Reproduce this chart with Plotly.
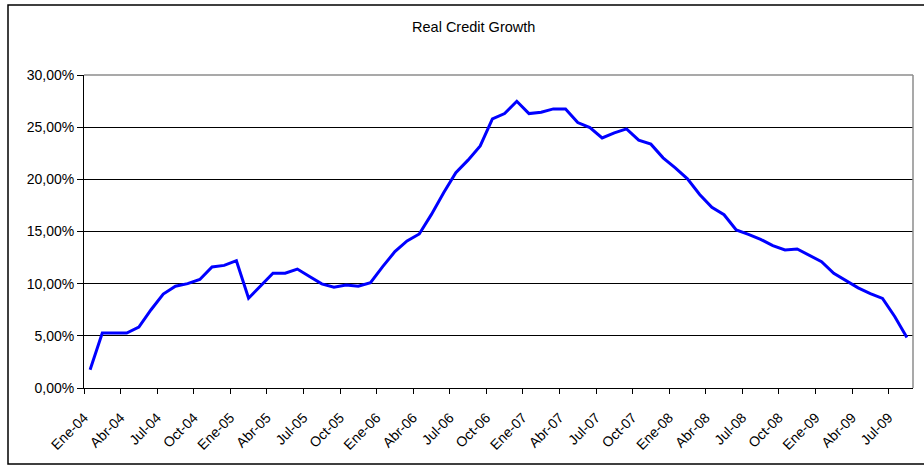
import plotly.graph_objects as go

title_text = "Real Credit Growth"

months = [
    "Ene-04", "Feb-04", "Mar-04", "Abr-04", "May-04", "Jun-04", "Jul-04", "Ago-04", "Sep-04", "Oct-04", "Nov-04", "Dic-04",
    "Ene-05", "Feb-05", "Mar-05", "Abr-05", "May-05", "Jun-05", "Jul-05", "Ago-05", "Sep-05", "Oct-05", "Nov-05", "Dic-05",
    "Ene-06", "Feb-06", "Mar-06", "Abr-06", "May-06", "Jun-06", "Jul-06", "Ago-06", "Sep-06", "Oct-06", "Nov-06", "Dic-06",
    "Ene-07", "Feb-07", "Mar-07", "Abr-07", "May-07", "Jun-07", "Jul-07", "Ago-07", "Sep-07", "Oct-07", "Nov-07", "Dic-07",
    "Ene-08", "Feb-08", "Mar-08", "Abr-08", "May-08", "Jun-08", "Jul-08", "Ago-08", "Sep-08", "Oct-08", "Nov-08", "Dic-08",
    "Ene-09", "Feb-09", "Mar-09", "Abr-09", "May-09", "Jun-09", "Jul-09", "Ago-09",
]

growth_pct = [
    1.75, 5.26, 5.26, 5.26, 5.83, 7.50, 9.00, 9.75, 10.00, 10.40, 11.60, 11.75,
    12.20, 8.60, 9.80, 11.00, 11.00, 11.40, 10.68, 9.98, 9.66, 9.88, 9.75, 10.10,
    11.63, 13.07, 14.09, 14.76, 16.64, 18.71, 20.63, 21.84, 23.20, 25.79, 26.30, 27.48,
    26.30, 26.43, 26.75, 26.75, 25.44, 24.96, 23.97, 24.45, 24.83, 23.75, 23.37, 22.06,
    21.10, 20.05, 18.55, 17.31, 16.61, 15.14, 14.73, 14.25, 13.64, 13.23, 13.32, 12.75,
    12.11, 11.00, 10.30, 9.60, 9.05, 8.58, 6.85, 4.85,
]

y_ticks = [0, 5, 10, 15, 20, 25, 30]
label_step = 3

x_idx = list(range(len(months)))
tick_pos = [i - 0.5 for i in range(0, len(months), label_step)]
tick_txt = [months[i] for i in range(0, len(months), label_step)]

fig = go.Figure()
fig.add_trace(go.Scatter(
    x=x_idx, y=[v / 100 for v in growth_pct], mode="lines",
    line=dict(color="#0000FF", width=3), showlegend=False, hoverinfo="skip",
))

font_family = "Liberation Sans, Arial, sans-serif"

fig.update_layout(
    width=924, height=466,
    margin=dict(l=84, r=11, t=75, b=78),
    paper_bgcolor="white", plot_bgcolor="white",
    separators=",.",
    font=dict(family=font_family, size=14, color="black"),
    title=dict(text=title_text, x=473.7 / 924, xref="container", xanchor="center",
               y=1 - 27 / 466, yref="container", yanchor="middle",
               font=dict(size=14.5, family=font_family, color="black")),
    xaxis=dict(
        range=[-0.5, len(months) - 0.5], tickmode="array", tickvals=tick_pos, ticktext=tick_txt,
        tickangle=-45, ticks="outside", ticklen=5, tickcolor="black", showgrid=False,
        showline=True, linecolor="black", linewidth=1, zeroline=False,
        tickfont=dict(size=14), ticklabelstandoff=10,
    ),
    yaxis=dict(
        range=[0, 0.30], tickmode="array", tickvals=[v / 100 for v in y_ticks], tickformat=".2%",
        ticks="outside", ticklen=6, tickcolor="black", showgrid=True, gridcolor="black", gridwidth=1,
        showline=True, linecolor="black", linewidth=1, zeroline=False,
        tickfont=dict(size=14),
    ),
    shapes=[
        dict(type="line", xref="paper", yref="paper", x0=0, x1=1, y0=1, y1=1,
             line=dict(color="#8c8c8c", width=1.5)),
        dict(type="line", xref="paper", yref="paper", x0=1, x1=1, y0=0, y1=1,
             line=dict(color="#8c8c8c", width=1.5)),
        dict(type="rect", xref="paper", yref="paper",
             x0=(8 - 84) / 829, x1=(935 - 84) / 829, y0=(388 - 464) / 313, y1=(388 - 5) / 313,
             line=dict(color="black", width=1.5), fillcolor="rgba(0,0,0,0)"),
    ],
)

fig.write_html("out.html")
